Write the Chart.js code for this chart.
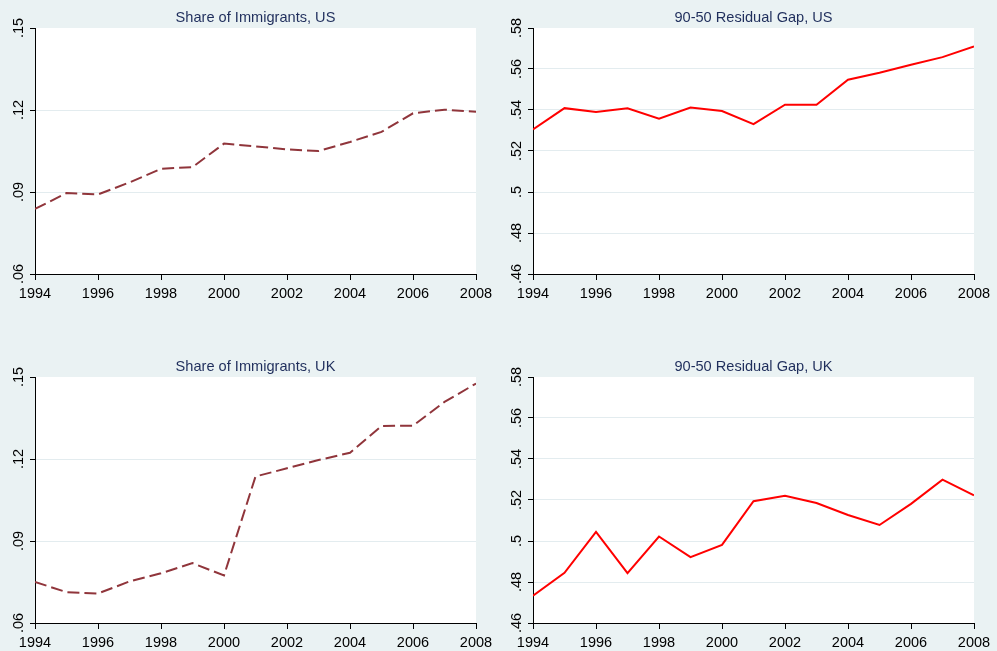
<!DOCTYPE html>
<html>
<head>
<meta charset="utf-8">
<script src="https://cdn.jsdelivr.net/npm/chart.js@4"></script>
<style>
  body { margin: 0; background: #EAF2F3; width: 997px; height: 651px; overflow: hidden; }
  .panel { position: absolute; width: 498px; height: 302px; }
</style>
</head>
<body>
<div class="panel" style="left:0;top:0"><canvas id="c1"></canvas></div>
<div class="panel" style="left:498px;top:0"><canvas id="c2"></canvas></div>
<div class="panel" style="left:0;top:349px"><canvas id="c3"></canvas></div>
<div class="panel" style="left:498px;top:349px"><canvas id="c4"></canvas></div>
<script>
// data
const years = [1994, 1995, 1996, 1997, 1998, 1999, 2000, 2001, 2002, 2003, 2004, 2005, 2006, 2007, 2008];
const immigUS = [0.0838, 0.0896, 0.0891, 0.0935, 0.0985, 0.0991, 0.1077, 0.1067, 0.1056, 0.1050, 0.1083, 0.1120, 0.1188, 0.1201, 0.1194];
const gapUS = [0.5305, 0.5409, 0.5390, 0.5408, 0.5357, 0.5412, 0.5395, 0.5331, 0.5426, 0.5426, 0.5548, 0.5582, 0.5621, 0.5658, 0.5710];
const immigUK = [0.0750, 0.0713, 0.0708, 0.0752, 0.0782, 0.0819, 0.0774, 0.1136, 0.1166, 0.1196, 0.1223, 0.1321, 0.1322, 0.1409, 0.1476];
const gapUK = [0.4733, 0.4845, 0.5044, 0.4843, 0.5022, 0.4921, 0.4981, 0.5194, 0.5221, 0.5185, 0.5127, 0.5078, 0.5181, 0.5299, 0.5223];

const yearTicks = [1994, 1996, 1998, 2000, 2002, 2004, 2006, 2008];
const immigTicks = [0.06, 0.09, 0.12, 0.15];
const gapTicks = [0.46, 0.48, 0.50, 0.52, 0.54, 0.56, 0.58];

const FONT = "'Liberation Sans', Arial, sans-serif";

function fmt(v) {
  return parseFloat(v.toFixed(2)).toString().replace(/^0/, '');
}

// white plot region, centred title and rotated y labels (Stata look)
const stataPlugin = {
  id: 'stata',
  beforeDraw(chart) {
    const a = chart.chartArea;
    const ctx = chart.ctx;
    ctx.save();
    ctx.fillStyle = '#ffffff';
    ctx.fillRect(a.left, a.top, a.right - a.left, a.bottom - a.top);
    ctx.restore();
  },
  afterDraw(chart) {
    const a = chart.chartArea;
    const ctx = chart.ctx;
    const y = chart.scales.y;
    ctx.save();
    ctx.fillStyle = '#1F2E5C';
    ctx.font = '14.6px ' + FONT;
    ctx.textAlign = 'center';
    ctx.textBaseline = 'alphabetic';
    ctx.fillText(chart.options.plugins.stata.title, (a.left + a.right) / 2, 22);

    ctx.fillStyle = '#000';
    ctx.font = '14.5px ' + FONT;
    ctx.textBaseline = 'middle';
    y.ticks.forEach(t => {
      const py = y.getPixelForValue(t.value);
      ctx.save();
      ctx.translate(a.left - 16, py);
      ctx.rotate(-Math.PI / 2);
      ctx.fillText(fmt(t.value), 0, 0);
      ctx.restore();
    });
    ctx.restore();
  }
};

function makeChart(id, title, values, ticks, color, dashed) {
  const min = ticks[0], max = ticks[ticks.length - 1];
  return new Chart(document.getElementById(id), {
    type: 'line',
    data: {
      datasets: [{
        data: years.map((yr, i) => ({ x: yr, y: values[i] })),
        borderColor: color,
        borderWidth: 2,
        borderDash: dashed ? [12, 5] : [],
        pointRadius: 0,
        tension: 0,
        fill: false
      }]
    },
    plugins: [stataPlugin],
    options: {
      responsive: true,
      maintainAspectRatio: false,
      animation: false,
      events: [],
      layout: { padding: { top: 28, right: 22, left: 0, bottom: 0 } },
      plugins: {
        legend: { display: false },
        tooltip: { enabled: false },
        stata: { title: title }
      },
      scales: {
        x: {
          type: 'linear',
          min: 1994,
          max: 2008,
          afterBuildTicks: s => { s.ticks = yearTicks.map(v => ({ value: v })); },
          afterFit: s => { s.height = 28; },
          ticks: {
            color: '#000',
            font: { family: FONT, size: 14.5 },
            padding: 5,
            maxRotation: 0,
            autoSkip: false,
            callback: v => String(v)
          },
          grid: { drawOnChartArea: false, drawTicks: true, tickLength: 6, tickColor: '#000' },
          border: { display: true, color: '#000', width: 1 }
        },
        y: {
          min: min,
          max: max,
          afterBuildTicks: s => { s.ticks = ticks.map(v => ({ value: v })); },
          afterFit: s => { s.width = 35; },
          ticks: { display: false },
          grid: {
            color: c => (c.tick && c.tick.value > min + 1e-9 && c.tick.value < max - 1e-9) ? '#E3ECEF' : 'rgba(0,0,0,0)',
            lineWidth: 1,
            drawTicks: true,
            tickLength: 5,
            tickColor: '#000'
          },
          border: { display: true, color: '#000', width: 1 }
        }
      }
    }
  });
}

makeChart('c1', 'Share of Immigrants, US', immigUS, immigTicks, '#90353B', true);
makeChart('c2', '90-50 Residual Gap, US', gapUS, gapTicks, '#FF0000', false);
makeChart('c3', 'Share of Immigrants, UK', immigUK, immigTicks, '#90353B', true);
makeChart('c4', '90-50 Residual Gap, UK', gapUK, gapTicks, '#FF0000', false);
</script>
</body>
</html>
